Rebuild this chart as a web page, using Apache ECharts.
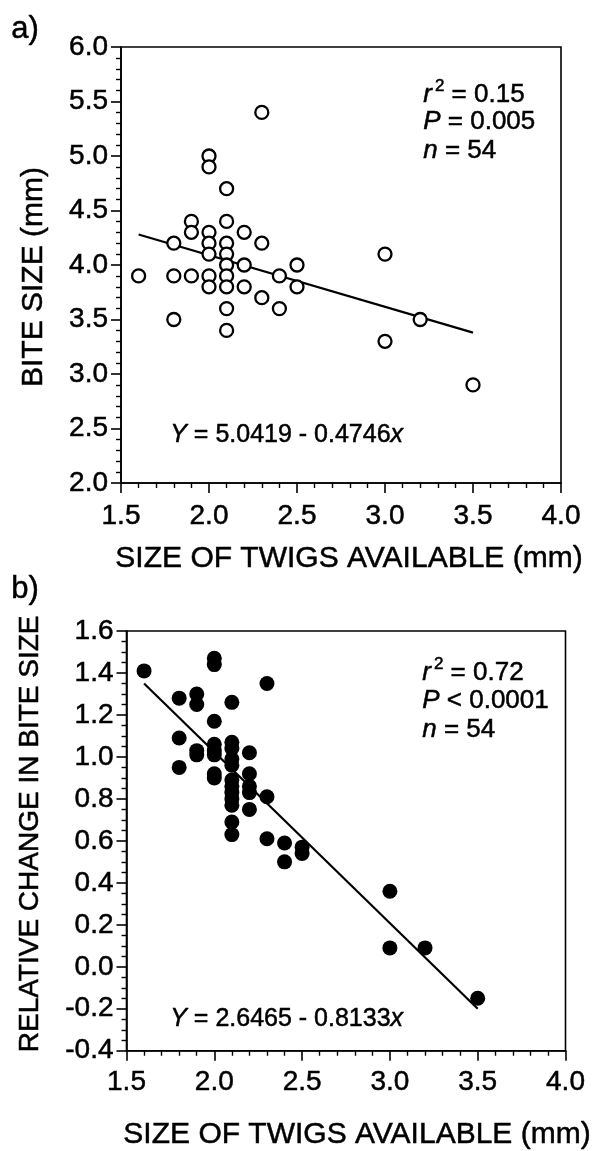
<!DOCTYPE html>
<html>
<head>
<meta charset="utf-8">
<script src="https://cdn.jsdelivr.net/npm/echarts@6/dist/echarts.min.js"></script>
<style>
html,body{margin:0;padding:0;background:#fff;}
#c{width:599px;height:1151px;}
</style>
</head>
<body>
<div id="c"></div>
<script>
// Panel a: bite size vs size of twigs available (open circles)
const aX = [1.6,1.8,1.8,1.8,1.9,1.9,1.9,2.0,2.0,2.0,2.0,2.0,2.0,2.0,2.1,2.1,2.1,2.1,2.1,2.1,2.1,2.1,2.1,2.2,2.2,2.2,2.3,2.3,2.3,2.4,2.4,2.5,2.5,3.0,3.0,3.2,3.5];
const aY = [3.9,4.2,3.9,3.5,4.4,4.3,3.9,5.0,4.9,4.3,4.2,4.1,3.9,3.8,4.7,4.4,4.2,4.1,4.0,3.9,3.8,3.6,3.4,4.3,4.0,3.8,5.4,4.2,3.7,3.9,3.6,4.0,3.8,4.1,3.3,3.5,2.9];
const aFitX = [1.6, 3.5];
const aFitY = [4.28, 3.38];

// Panel b: relative change in bite size (filled circles)
const bX = [1.6,1.8,1.8,1.8,1.9,1.9,1.9,1.9,2.0,2.0,2.0,2.0,2.0,2.0,2.0,2.0,2.1,2.1,2.1,2.1,2.1,2.1,2.1,2.1,2.1,2.1,2.1,2.1,2.2,2.2,2.2,2.2,2.2,2.3,2.3,2.3,2.4,2.4,2.5,2.5,3.0,3.0,3.2,3.5];
const bY = [1.41,1.28,1.09,0.95,1.30,1.25,1.03,1.01,1.47,1.44,1.17,1.06,1.03,1.01,0.92,0.90,1.26,1.07,1.04,0.99,0.96,0.89,0.86,0.83,0.80,0.77,0.69,0.63,1.02,0.92,0.86,0.83,0.75,1.35,0.81,0.61,0.59,0.50,0.57,0.54,0.36,0.09,0.09,-0.15];
const bFitX = [1.6, 3.5];
const bFitY = [1.35, -0.20];

// Titles / annotations
const xTitle = 'SIZE OF TWIGS AVAILABLE (mm)';
const aYTitle = 'BITE SIZE (mm)';
const bYTitle = 'RELATIVE CHANGE IN BITE SIZE';
const aStats = [['r','2',' = 0.15'],['P','',' = 0.005'],['n','',' = 54']];
const bStats = [['r','2',' = 0.72'],['P','',' < 0.0001'],['n','',' = 54']];
const aEq = ['Y',' = 5.0419 - 0.4746','x'];
const bEq = ['Y',' = 2.6465 - 0.8133','x'];

const FONT = 'Arial, "Liberation Sans", Helvetica, sans-serif';
const INK = {textBorderColor: '#000', textBorderWidth: 0.5};   // for axis labels (echarts label style)
const GINK = {stroke: '#000', lineWidth: 0.5};                 // for graphic text (zrender style)
const pair = (xs, ys) => xs.map((x, i) => [x, ys[i]]);

function xAxis(gi, nameGap, margin, shift) {
  return {
    type: 'value', gridIndex: gi, min: 1.5, max: 4.0, interval: 0.5,
    name: xTitle, nameLocation: 'middle', nameGap: nameGap,
    nameTextStyle: Object.assign({color: '#000', fontSize: 30, fontFamily: FONT, padding: [0, 0, 0, shift]}, INK),
    axisLine: {show: true, onZero: false, lineStyle: {color: '#000', width: 1.6}},
    axisTick: {show: true, inside: false, length: 10, lineStyle: {color: '#000', width: 1.6}},
    minorTick: {show: true, splitNumber: 5, length: 5, lineStyle: {color: '#000', width: 1.4}},
    splitLine: {show: false},
    axisLabel: Object.assign({color: '#000', fontSize: 28, fontFamily: FONT, margin: margin, formatter: v => v.toFixed(1)}, INK)
  };
}
function yAxis(gi, min, max, interval, split, name, nameGap, fs, pad, margin) {
  return {
    type: 'value', gridIndex: gi, min: min, max: max, interval: interval,
    name: name, nameLocation: 'middle', nameGap: nameGap,
    nameTextStyle: Object.assign({color: '#000', fontSize: fs, fontFamily: FONT, padding: pad}, INK),
    axisLine: {show: true, onZero: false, lineStyle: {color: '#000', width: 1.6}},
    axisTick: {show: true, inside: false, length: 10, lineStyle: {color: '#000', width: 1.6}},
    minorTick: {show: true, splitNumber: split, length: 5, lineStyle: {color: '#000', width: 1.4}},
    splitLine: {show: false},
    axisLabel: Object.assign({color: '#000', fontSize: 28, fontFamily: FONT, margin: margin, formatter: v => v.toFixed(1)}, INK)
  };
}

function statText(rows, x, ys) {
  return rows.map((r, i) => ({
    type: 'text', left: x, top: ys[i] - 12, z: 100,
    style: Object.assign({
      text: '{i|' + r[0] + '}' + (r[1] ? '{s|' + r[1] + '}' : '') + '{t|' + r[2] + '}',
      fill: '#000',
      rich: {
        i: Object.assign({fontSize: 26, fontStyle: 'italic', fontFamily: FONT, fill: '#000', lineHeight: 30, verticalAlign: 'bottom'}, GINK),
        s: Object.assign({fontSize: 17, fontFamily: FONT, fill: '#000', lineHeight: 30, verticalAlign: 'top', padding: [0, 0, 0, 3]}, GINK),
        t: Object.assign({fontSize: 26, fontFamily: FONT, fill: '#000', lineHeight: 30, verticalAlign: 'bottom'}, GINK)
      }
    }, GINK)
  }));
}
function eqText(eq, x, y) {
  return {
    type: 'text', left: x, top: y - 11, z: 100,
    style: Object.assign({
      text: '{i|' + eq[0] + '}{t|' + eq[1] + '}{i|' + eq[2] + '}',
      fill: '#000',
      rich: {
        i: Object.assign({fontSize: 25, fontStyle: 'italic', fontFamily: FONT, fill: '#000', lineHeight: 30}, GINK),
        t: Object.assign({fontSize: 25, fontFamily: FONT, fill: '#000', lineHeight: 30}, GINK)
      }
    }, GINK)
  };
}

const chart = echarts.init(document.getElementById('c'), null, {renderer: 'canvas'});
chart.setOption({
  backgroundColor: '#fff',
  animation: false,
  grid: [
    {left: 121, top: 47, width: 440, height: 436, show: true, borderColor: '#000', borderWidth: 1.6, backgroundColor: 'transparent'},
    {left: 126.5, top: 631, width: 439, height: 427.5, show: true, borderColor: '#000', borderWidth: 1.6, backgroundColor: 'transparent'}
  ],
  xAxis: [xAxis(0, 61, 19, 16), xAxis(1, 69, 18, 22)],
  yAxis: [
    yAxis(0, 2.0, 6.0, 0.5, 5, aYTitle, 72, 30, [0, 24, 0, 0], 13),
    yAxis(1, -0.4, 1.6, 0.2, 4, bYTitle, 82, 28, [0, 0, 0, 14], 13)
  ],
  series: [
    {type: 'line', xAxisIndex: 0, yAxisIndex: 0, data: pair(aFitX, aFitY), symbol: 'none', z: 1,
      lineStyle: {color: '#000', width: 2.2}},
    {type: 'scatter', xAxisIndex: 0, yAxisIndex: 0, data: pair(aX, aY), symbol: 'circle', symbolSize: 13, z: 3,
      itemStyle: {color: '#fff', borderColor: '#000', borderWidth: 2.3, opacity: 1}},
    {type: 'line', xAxisIndex: 1, yAxisIndex: 1, data: pair(bFitX, bFitY), symbol: 'none', z: 1,
      lineStyle: {color: '#000', width: 2.2}},
    {type: 'scatter', xAxisIndex: 1, yAxisIndex: 1, data: pair(bX, bY), symbol: 'circle', symbolSize: 15, z: 3,
      itemStyle: {color: '#000', opacity: 1}}
  ],
  graphic: [
    {type: 'text', left: 11, top: 14, style: Object.assign({text: 'a)', fontSize: 31, fontFamily: FONT, fill: '#000'}, GINK)},
    {type: 'text', left: 11, top: 574, style: Object.assign({text: 'b)', fontSize: 31, fontFamily: FONT, fill: '#000'}, GINK)},
    ...statText(aStats, 423, [90, 121, 150]),
    ...statText(bStats, 422, [668, 700, 729]),
    eqText(aEq, 170, 433),
    eqText(bEq, 170, 1017)
  ]
});
</script>
</body>
</html>
